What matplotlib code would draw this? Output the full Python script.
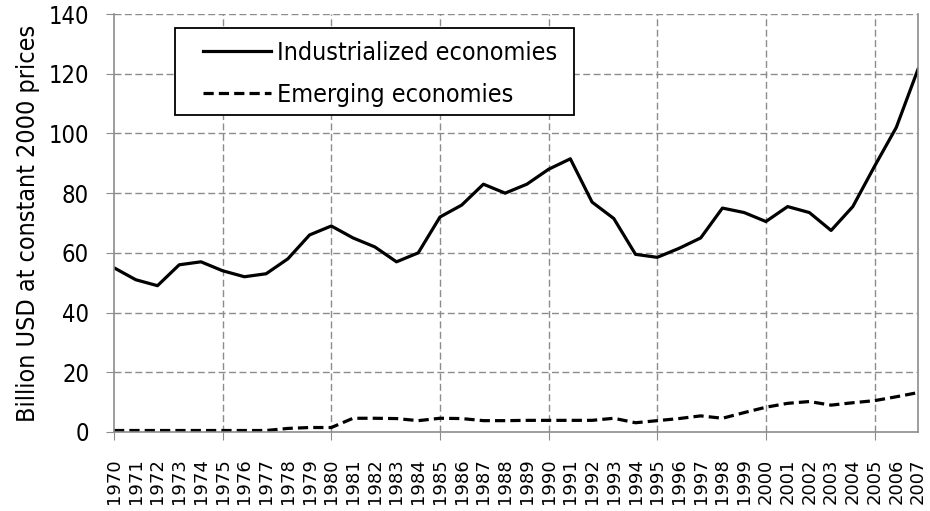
import matplotlib
matplotlib.use("Agg")
import matplotlib.pyplot as plt
from matplotlib import font_manager
from matplotlib.patches import Rectangle

# energy investment, billion USD at constant 2000 prices
years = list(range(1970, 2008))
industrialized = [55, 51, 49, 56, 57, 54, 52, 53, 58, 66,
                  69, 65, 62, 57, 60, 72, 76, 83, 80, 83,
                  88, 91.5, 77, 71.5, 59.5, 58.5, 61.5, 65, 75, 73.5,
                  70.5, 75.5, 73.5, 67.5, 75.5, 89, 102, 121.5]
emerging = [0.5, 0.5, 0.5, 0.5, 0.5, 0.5, 0.5, 0.5, 1.2, 1.5,
            1.5, 4.6, 4.6, 4.5, 3.8, 4.6, 4.5, 3.8, 3.8, 3.9,
            3.9, 3.9, 3.9, 4.6, 3.1, 3.8, 4.5, 5.4, 4.6, 6.5,
            8.3, 9.6, 10.2, 9.0, 9.8, 10.5, 11.8, 13.2]
yticks = list(range(0, 141, 20))

# prefer a narrow face for the labels, fall back to Liberation Sans
narrow = None
for f in font_manager.fontManager.ttflist:
    if f.style == "normal" and f.weight in (400, "normal") and (
            "Narrow" in f.name or "Condensed" in f.name
            or f.stretch in ("condensed", "semi-condensed")):
        narrow = f
        break
if narrow is not None:
    lab_font = font_manager.FontProperties(fname=narrow.fname)
    big = 18
else:
    lab_font = font_manager.FontProperties(family="Liberation Sans")
    big = 16
GRID = "#8c8c8c"

fig = plt.figure(figsize=(9.3, 5.11), dpi=100)
ax = fig.add_axes([0.1226, 0.1546, 0.8645, 0.818])

ax.plot(years, industrialized, color="black", linewidth=2.3,
        label="Industrialized economies", solid_joinstyle="round")
ax.plot(years, emerging, color="black", linewidth=2.3, dashes=(3.2, 1.6),
        label="Emerging economies")

ax.set_xlim(1970, 2007)
ax.set_ylim(0, 140)
ax.set_yticks(yticks)
ax.set_xticks(years)
ax.set_xticklabels([str(y) for y in years], rotation=90, fontsize=13,
                   family="DejaVu Sans")
for lab in ax.get_yticklabels():
    lab.set_fontproperties(lab_font)
    lab.set_fontsize(big - 1)

# gridlines: every 20 on y, every 5 years on x
for y in yticks[1:]:
    ax.axhline(y, color=GRID, linewidth=1, dashes=(5, 2.5), zorder=0)
for y in range(1975, 2007, 5):
    ax.axvline(y, color=GRID, linewidth=1, dashes=(5, 2.5), zorder=0)

for s in ax.spines.values():
    s.set_color(GRID)
    s.set_linewidth(1.2)
ax.spines["top"].set_visible(False)

ax.tick_params(axis="y", length=6, color=GRID, pad=12)
ax.tick_params(axis="x", length=6, color=GRID, pad=13)
# only every fifth year carries a tick mark
for i, t in enumerate(ax.xaxis.get_major_ticks()):
    if years[i] % 5 != 0:
        t.tick1line.set_visible(False)

ylab = ax.set_ylabel("Billion USD at constant 2000 prices", labelpad=6)
ylab.set_fontproperties(lab_font)
ylab.set_fontsize(big)

# legend entries without frame, box drawn separately for wider side padding
leg_font = lab_font.copy()
leg_font.set_size(big)
leg = ax.legend(loc="center left", bbox_to_anchor=(0.1107, 0.857),
                prop=leg_font, handlelength=2.7, handletextpad=0.25,
                labelspacing=0.72, borderpad=0, borderaxespad=0,
                frameon=False)
ax.add_patch(Rectangle((0.0759, 0.758), 0.4962, 0.2085,
                       transform=ax.transAxes, facecolor="white",
                       edgecolor="black", linewidth=1.3, zorder=4))

fig.savefig("out.png", dpi=100)
